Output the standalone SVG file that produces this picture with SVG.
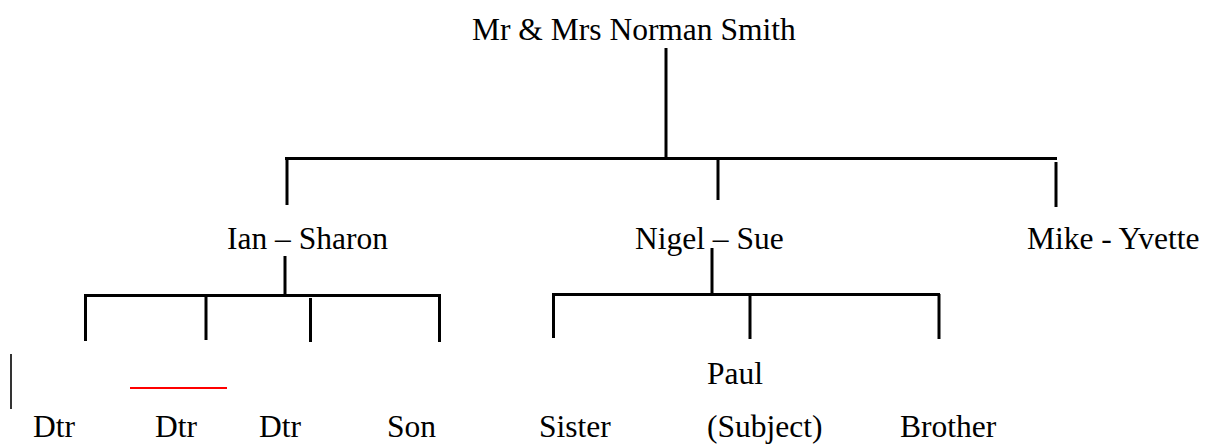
<svg xmlns="http://www.w3.org/2000/svg" width="1212" height="444" viewBox="0 0 1212 444">
<style>
.t{font-family:'Liberation Serif',Tinos,'Times New Roman','DejaVu Serif',serif;font-size:31.5px;fill:#000}
.c{stroke:#000;stroke-width:3;fill:none;stroke-linecap:butt}
.thin{stroke:#000;stroke-width:1.6;fill:none}
.red{stroke:#ff0000;stroke-width:2;fill:none}
</style>
<rect width="1212" height="444" fill="#fff"/>
<g id="connectors">
<line class="c" x1="666" y1="48" x2="666" y2="157"/>
<line class="c" x1="285" y1="158.5" x2="1057" y2="158.5"/>
<line class="c" x1="287" y1="158" x2="287" y2="205"/>
<line class="c" x1="718" y1="158" x2="718" y2="200"/>
<line class="c" x1="1056" y1="162" x2="1056" y2="207"/>
<line class="c" x1="285" y1="256" x2="285" y2="295"/>
<line class="c" x1="84" y1="295.5" x2="441" y2="295.5"/>
<line class="c" x1="85.5" y1="295" x2="85.5" y2="341"/>
<line class="c" x1="206" y1="295" x2="206" y2="340"/>
<line class="c" x1="310.5" y1="298" x2="310.5" y2="342"/>
<line class="c" x1="439.5" y1="295" x2="439.5" y2="342"/>
<line class="c" x1="712" y1="248" x2="712" y2="293"/>
<line class="c" x1="552" y1="294.5" x2="940" y2="294.5"/>
<line class="c" x1="553.5" y1="294" x2="553.5" y2="338"/>
<line class="c" x1="750" y1="294" x2="750" y2="339"/>
<line class="c" x1="939" y1="294" x2="939" y2="339"/>
</g>
<g id="marks">
<line class="thin" x1="11" y1="354" x2="11" y2="409"/>
<line class="red" x1="130" y1="388" x2="227" y2="388"/>
</g>
<g class="t" font-family="Liberation Serif, Tinos, Times New Roman, DejaVu Serif, serif" font-size="31.5">
<g id="n-root"><text x="472" y="40">Mr &amp; Mrs Norman Smith</text></g>
<g id="n-ian"><text x="227" y="249">Ian – Sharon</text></g>
<g id="n-nigel"><text x="635" y="249">Nigel – Sue</text></g>
<g id="n-mike"><text x="1027" y="249">Mike - Yvette</text></g>
<g id="n-dtr1"><text x="33" y="437">Dtr</text></g>
<g id="n-dtr2"><text x="155" y="437">Dtr</text></g>
<g id="n-dtr3"><text x="259" y="437">Dtr</text></g>
<g id="n-son"><text x="387" y="437">Son</text></g>
<g id="n-sister"><text x="539" y="437">Sister</text></g>
<g id="n-paul"><text x="707" y="384">Paul</text><text x="707" y="437">(Subject)</text></g>
<g id="n-brother"><text x="900" y="437">Brother</text></g>
</g>
</svg>
